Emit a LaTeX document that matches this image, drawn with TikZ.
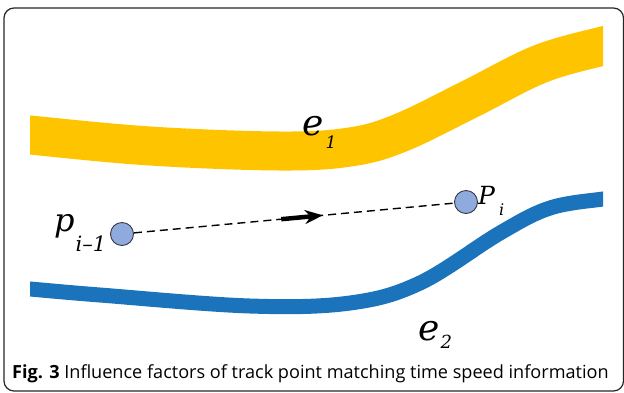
\documentclass[tikz,border=0pt]{standalone}
\usepackage{fontspec}
\newfontfamily\capfont{Open Sans}
\newfontfamily\lblfont{DejaVu Serif}
\usetikzlibrary{arrows.meta}
\definecolor{roadyellow}{RGB}{255,196,0}
\definecolor{roadblue}{RGB}{27,116,187}
\definecolor{ptfill}{RGB}{143,170,220}
\definecolor{ptdraw}{RGB}{55,55,65}
\begin{document}
\begin{tikzpicture}[x=1pt,y=-1pt,
  frame/.style={draw=black!85,line width=1.2pt,rounded corners=10pt},
  yroad/.style={draw=roadyellow,line width=39pt},
  broad/.style={draw=roadblue,line width=15pt},
  gpspt/.style={circle,draw=ptdraw,fill=ptfill,line width=0.9pt,minimum size=23pt,inner sep=0pt},
  lbl/.style={inner sep=0pt,anchor=base west,font=\lblfont\itshape},
  captext/.style={inner sep=0pt,anchor=base west,font=\capfont},
  dashline/.style={draw=black,line width=1.4pt,dash pattern=on 8pt off 5pt},
  midarrow/.style={draw=black,line width=4.5pt,-{Stealth[length=18pt,width=14pt]}},
]
\useasboundingbox (0,0) rectangle (624,392);
\draw[frame] (4,8) rectangle (623.5,391);
\begin{scope}
\clip (30,0) rectangle (603,392);
\draw[yroad] plot[smooth,tension=0.6] coordinates {(15,133) (30,135) (150,146) (280,151) (350,147) (400,133) (470,99) (540,64) (603,46) (615,44)};
\draw[broad] plot[smooth,tension=0.6] coordinates {(15,288) (30,289) (100,295) (250,306) (350,303) (420,283) (500,233) (550,208) (603,199) (615,198)};
\end{scope}
\node[gpspt] (p) at (122,234) {};
\node[gpspt] (P) at (466,202) {};
\draw[dashline] (p) -- (P);
\path (p) -- (P) coordinate[pos=0.46] (m1) coordinate[pos=0.59] (m2);
\draw[midarrow] (m1) -- (m2);
\node[lbl] (plab) at (54,231) {\fontsize{32}{32}\selectfont p\hspace{1pt}\raisebox{-20pt}{\fontsize{21}{21}\selectfont i\textendash 1}};
\node[lbl] (Plab) at (478,204) {\fontsize{25}{25}\selectfont P\hspace{4pt}\raisebox{-11pt}{\fontsize{16}{16}\selectfont i}};
\node[lbl] (e1) at (302,135) {\fontsize{36}{36}\selectfont e\hspace{2pt}\raisebox{-13pt}{\fontsize{17}{17}\selectfont 1}};
\node[lbl] (e2) at (418,340) {\fontsize{36}{36}\selectfont e\hspace{1pt}\raisebox{-8pt}{\fontsize{18}{18}\selectfont 2}};
\node[captext] (cap) at (12,378) {\fontsize{18.1}{18.1}\selectfont\textbf{Fig. 3} Influence factors of track point matching time speed information};
\end{tikzpicture}
\end{document}
